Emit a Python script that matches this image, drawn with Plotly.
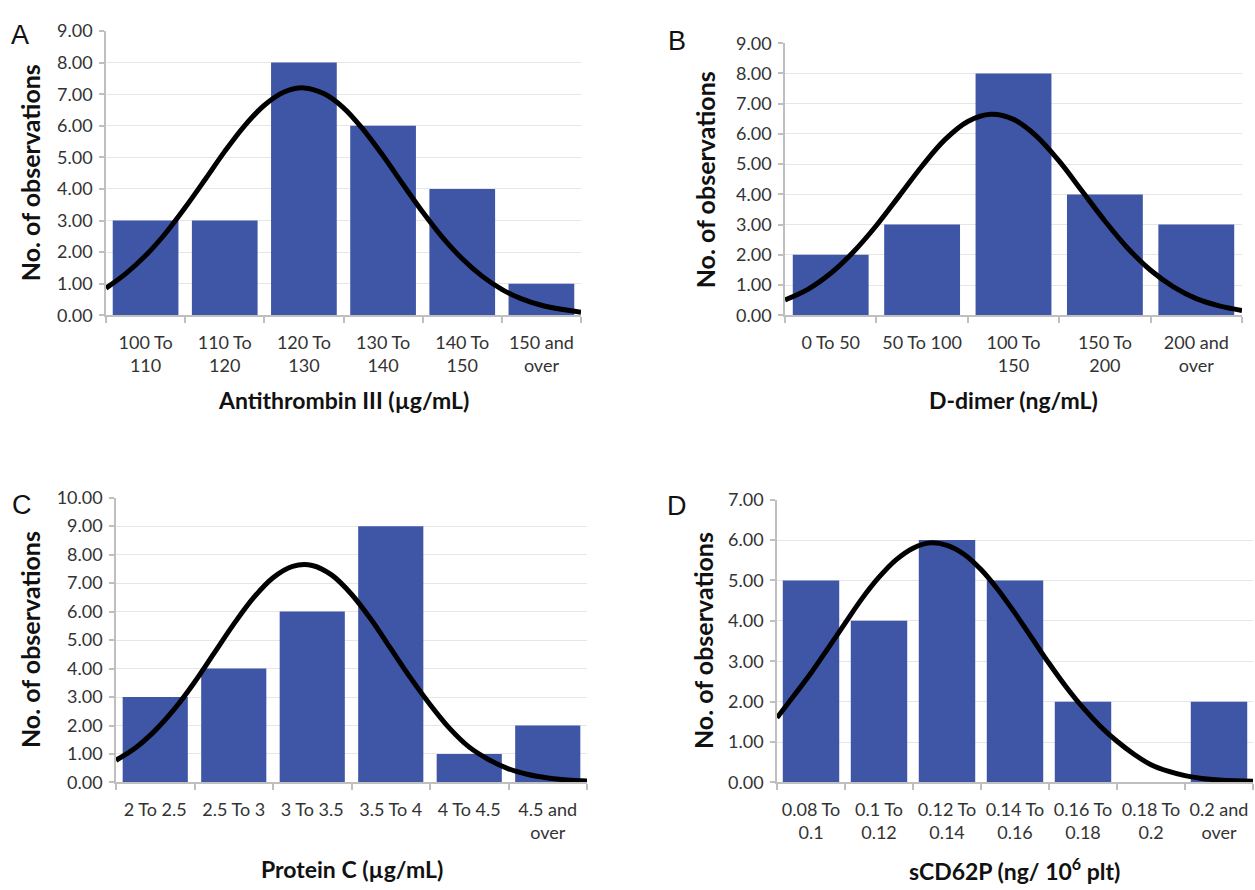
import plotly.graph_objects as go

W, H = 1255, 890

# ---------------- data ----------------
a_labels = ["100 To<br>110", "110 To<br>120", "120 To<br>130", "130 To<br>140", "140 To<br>150", "150 and<br>over"]
a_counts = [3, 3, 8, 6, 4, 1]
a_curve_x = [-0.5, -0.25, 0, 0.25, 0.5, 0.75, 1, 1.25, 1.5, 1.75, 2, 2.25, 2.5,
             2.75, 3, 3.25, 3.5, 3.75, 4, 4.25, 4.5, 4.75, 5, 5.25, 5.5]
a_curve_y = [0.86, 1.32, 1.89, 2.59, 3.41, 4.29, 5.19, 6.00, 6.65, 7.07, 7.20, 7.02, 6.57,
             5.88, 5.05, 4.15, 3.27, 2.47, 1.79, 1.24, 0.82, 0.52, 0.32, 0.19, 0.10]

b_labels = ["0 To 50", "50 To 100", "100 To<br>150", "150 To<br>200", "200 and<br>over"]
b_counts = [2, 3, 8, 4, 3]
b_curve_x = [-0.5, -0.25, 0, 0.25, 0.5, 0.75, 1, 1.25, 1.5, 1.75, 2, 2.25, 2.5,
             2.75, 3, 3.25, 3.5, 3.75, 4, 4.25, 4.5]
b_curve_y = [0.51, 0.86, 1.39, 2.10, 2.97, 3.95, 4.94, 5.81, 6.41, 6.65, 6.48, 5.93, 5.10,
             4.11, 3.12, 2.22, 1.49, 0.94, 0.55, 0.31, 0.16]

c_labels = ["2 To 2.5", "2.5 To 3", "3 To 3.5", "3.5 To 4", "4 To 4.5", "4.5 and<br>over"]
c_counts = [3, 4, 6, 9, 1, 2]
c_curve_x = [-0.5, -0.25, 0, 0.25, 0.5, 0.75, 1, 1.25, 1.5, 1.75, 2, 2.25, 2.5,
             2.75, 3, 3.25, 3.5, 3.75, 4, 4.25, 4.5, 4.75, 5, 5.25, 5.5]
c_curve_y = [0.78, 1.22, 1.83, 2.60, 3.52, 4.54, 5.56, 6.48, 7.19, 7.59, 7.62, 7.28, 6.61,
             5.72, 4.70, 3.68, 2.74, 1.90, 1.24, 0.80, 0.48, 0.28, 0.16, 0.09, 0.05]

d_labels = ["0.08 To<br>0.1", "0.1 To<br>0.12", "0.12 To<br>0.14", "0.14 To<br>0.16",
            "0.16 To<br>0.18", "0.18 To<br>0.2", "0.2 and<br>over"]
d_counts = [5, 4, 6, 5, 2, 0, 2]
d_curve_x = [-0.5, -0.25, 0, 0.25, 0.5, 0.75, 1, 1.25, 1.5, 1.75, 2, 2.25, 2.5,
             2.75, 3, 3.25, 3.5, 3.75, 4, 4.25, 4.5, 4.75, 5, 5.25, 5.5, 5.75, 6, 6.25, 6.5]
d_curve_y = [1.60, 2.15, 2.71, 3.32, 3.94, 4.55, 5.08, 5.51, 5.80, 5.93, 5.87, 5.65, 5.27,
             4.77, 4.19, 3.57, 2.95, 2.37, 1.85, 1.40, 1.02, 0.70, 0.44, 0.28, 0.17, 0.10, 0.06, 0.04, 0.03]

panels = [
    dict(letter="A", labels=a_labels, counts=a_counts, cx=a_curve_x, cy=a_curve_y,
         ymax=9, xtitle="Antithrombin III (µg/mL)",
         px=(106, 581), py=(19.5, 311), letter_pos=(20, 24), ytitle_x=30, xtitle_y=398),
    dict(letter="B", labels=b_labels, counts=b_counts, cx=b_curve_x, cy=b_curve_y,
         ymax=9, xtitle="D-dimer (ng/mL)",
         px=(785, 1242), py=(32, 311), letter_pos=(677, 30), ytitle_x=705, xtitle_y=398),
    dict(letter="C", labels=c_labels, counts=c_counts, cx=c_curve_x, cy=c_curve_y,
         ymax=10, xtitle="Protein C (µg/mL)",
         px=(116, 587), py=(498, 790), letter_pos=(22, 505), ytitle_x=30, xtitle_y=879),
    dict(letter="D", labels=d_labels, counts=d_counts, cx=d_curve_x, cy=d_curve_y,
         ymax=7, xtitle="sCD62P (ng/ 10<sup>6</sup> plt)",
         px=(777, 1253), py=(500, 790), letter_pos=(677, 507), ytitle_x=703, xtitle_y=879),
]

BAR = "#3F56A6"
AXIS = "#BFBFBF"
GRID = "#E6E6E6"
TXT = "#333333"
FONT = "Lato"

fig = go.Figure()
annotations = []
layout = {}


def fx(px):
    return px / W


def fy(py):
    return 1 - py / H


for i, p in enumerate(panels, start=1):
    xa = "x" if i == 1 else f"x{i}"
    ya = "y" if i == 1 else f"y{i}"
    n = len(p["labels"])
    xs = list(range(n))
    fig.add_trace(go.Bar(x=xs, y=p["counts"], marker=dict(color=BAR, line=dict(width=0)),
                         width=0.83, xaxis=xa, yaxis=ya, showlegend=False))
    fig.add_trace(go.Scatter(x=p["cx"], y=p["cy"], mode="lines",
                             line=dict(color="black", width=5, shape="spline", smoothing=1.0),
                             xaxis=xa, yaxis=ya, showlegend=False, cliponaxis=False))
    xkey = "xaxis" if i == 1 else f"xaxis{i}"
    ykey = "yaxis" if i == 1 else f"yaxis{i}"
    layout[xkey] = dict(
        domain=[fx(p["px"][0]), fx(p["px"][1])], anchor=ya, range=[-0.5, n - 0.5],
        tickmode="array", tickvals=xs, ticktext=p["labels"], ticks="",
        showline=True, linecolor=AXIS, linewidth=1.5, showgrid=False, zeroline=False,
        tickfont=dict(family=FONT, size=18, color=TXT), ticklabelstandoff=10,
        minor=dict(tickmode="array", tickvals=[k - 0.5 for k in range(n + 1)], ticks="outside",
                   ticklen=6, tickcolor=AXIS, tickwidth=1.5, showgrid=False),
        fixedrange=True,
    )
    layout[ykey] = dict(
        domain=[fy(p["py"][1]), fy(p["py"][0])], anchor=xa, range=[0, p["ymax"]],
        tickmode="linear", tick0=0, dtick=1, tickformat=".2f",
        ticks="outside", ticklen=5, tickcolor=AXIS, tickwidth=1.5,
        showline=True, linecolor=AXIS, linewidth=1.5, showgrid=True, gridcolor=GRID, gridwidth=1,
        zeroline=False, tickfont=dict(family=FONT, size=18, color=TXT), ticklabelstandoff=3,
        fixedrange=True,
    )
    lx, ly = p["letter_pos"]
    annotations.append(dict(text=p["letter"], x=fx(lx), y=fy(ly), xref="paper", yref="paper",
                            xanchor="center", yanchor="middle", showarrow=False,
                            font=dict(family="Liberation Sans", size=27, color="#111111")))
    annotations.append(dict(text="<b>No. of observations</b>", x=fx(p["ytitle_x"]),
                            y=(fy(p["py"][0]) + fy(p["py"][1])) / 2, xref="paper", yref="paper",
                            xanchor="center", yanchor="middle", textangle=-90, showarrow=False,
                            font=dict(family=FONT, size=25, color="#111111")))
    annotations.append(dict(text="<b>" + p["xtitle"] + "</b>", x=(fx(p["px"][0]) + fx(p["px"][1])) / 2,
                            y=fy(p["xtitle_y"]), xref="paper", yref="paper",
                            xanchor="center", yanchor="middle", showarrow=False,
                            font=dict(family=FONT, size=23, color="#111111")))

fig.update_layout(
    width=W, height=H, margin=dict(l=0, r=0, t=0, b=0),
    paper_bgcolor="white", plot_bgcolor="white",
    annotations=annotations, **layout,
)

fig.write_html("out.html")
